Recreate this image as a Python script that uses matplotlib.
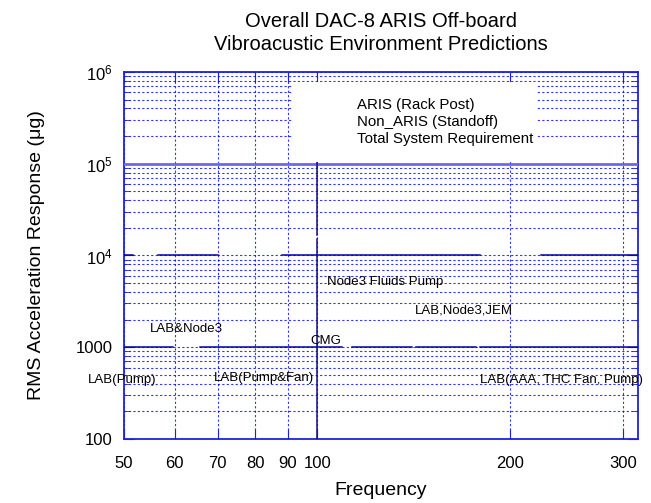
import numpy as np
import matplotlib
matplotlib.use("Agg")
import matplotlib.pyplot as plt
from matplotlib.ticker import FixedLocator, NullFormatter, LogLocator

plt.rcParams['font.family'] = ['Liberation Sans', 'DejaVu Sans']
plt.rcParams['mathtext.fontset'] = 'custom'
plt.rcParams['mathtext.rm'] = 'Liberation Sans'

# requirement / environment levels (ug rms) and the frequency spans they cover
total_req_level = 1e5
aris_level = 1e4
aris_spans = [(50, 51.6), (56.5, 70.0), (88.1, 179.2), (223.5, 316)]
non_aris_level = 1000
non_aris_spans = [(50, 59.6), (65.7, 109.2), (113.2, 140.5), (142.6, 176.6), (179.2, 316)]
cmg_freq = 100
cmg_spans = [(1.285e5, 1.69e4), (1.53e4, 100)]

# source labels: (text, frequency, level)
sources = [
    ("Node3 Fluids Pump", 103.6, 5080),
    ("LAB,Node3,JEM", 142, 2510),
    ("LAB&Node3", 54.8, 1570),
    ("CMG", 97.4, 1160),
    ("LAB(Pump)", 43.9, 437),
    ("LAB(Pump&Fan)", 69.0, 459),
    ("LAB(AAA, THC Fan, Pump)", 179, 437),
]

xticks = [50, 60, 70, 80, 90, 100, 200, 300]
yticks = [100, 1000, 1e4, 1e5, 1e6]
ylabels = ['100', '1000', r'$\mathregular{10^{4}}$', r'$\mathregular{10^{5}}$', r'$\mathregular{10^{6}}$']

blue = '#2020e0'
dark = '#0000b0'

fig = plt.figure(figsize=(6.51, 5.03), dpi=100)
ax = fig.add_axes([0.1905, 0.1272, 0.7895, 0.7297])
ax.set_xscale('log')
ax.set_yscale('log')
ax.set_xlim(50, 316)
ax.set_ylim(100, 1e6)

req_line, = ax.plot([50, 316], [total_req_level] * 2, color='#6a6ae8', lw=2.0,
                    label='Total System Requirement', zorder=3)
aris_line = None
for i, (a, b) in enumerate(aris_spans):
    ln, = ax.plot([a, b], [aris_level] * 2, color=dark, lw=1.1, zorder=3,
                  label='ARIS (Rack Post)' if i == 0 else None)
    if i == 0:
        aris_line = ln
non_line = None
for i, (a, b) in enumerate(non_aris_spans):
    ln, = ax.plot([a, b], [non_aris_level] * 2, color=dark, lw=1.1, zorder=3,
                  label='Non_ARIS (Standoff)' if i == 0 else None)
    if i == 0:
        non_line = ln
for top, bot in cmg_spans:
    ax.plot([cmg_freq] * 2, [top, bot], color='#10108a', lw=1.1, zorder=3)

for txt, fx, fy in sources:
    ax.text(fx, fy, txt, fontsize=9.5, ha='left', va='center', zorder=5, clip_on=False)

ax.xaxis.set_major_locator(FixedLocator(xticks))
ax.xaxis.set_minor_locator(FixedLocator([]))
ax.set_xticklabels([str(t) for t in xticks])
ax.yaxis.set_major_locator(FixedLocator(yticks))
ax.yaxis.set_minor_locator(LogLocator(base=10, subs=np.arange(2, 10)))
ax.yaxis.set_minor_formatter(NullFormatter())
ax.set_yticklabels(ylabels)

ax.grid(True, which='both', color='#0000ff', linestyle=(0, (2, 2)), lw=0.8, alpha=0.8)
ax.tick_params(which='both', direction='in', top=True, right=True, colors=blue,
               labelcolor='black', labelsize=12)
ax.tick_params(which='major', length=7)
ax.tick_params(which='minor', length=4)
ax.tick_params(axis='x', which='major', pad=12)
ax.tick_params(axis='y', which='major', pad=8)
for s in ax.spines.values():
    s.set_color(blue)
    s.set_linewidth(1.3)

leg = ax.legend(handles=[aris_line, non_line, req_line], loc='upper left',
                bbox_to_anchor=(0.312, 0.0, 0.506, 0.992), mode='expand',
                handlelength=0, handletextpad=3.3, fontsize=10.8, labelspacing=0.2,
                borderpad=1.05, frameon=True, fancybox=False)
leg.get_frame().set_facecolor('white')
leg.get_frame().set_edgecolor('none')
leg.get_frame().set_alpha(1)
leg.set_zorder(4)

ax.set_title('Overall DAC-8 ARIS Off-board\nVibroacustic Environment Predictions',
             fontsize=14.5, pad=16, linespacing=1.25)
ax.set_xlabel('Frequency', fontsize=14, labelpad=8)
ax.set_ylabel('RMS Acceleration Response (\u03bcg)', fontsize=14, labelpad=22)

fig.savefig('out.png', dpi=100)
